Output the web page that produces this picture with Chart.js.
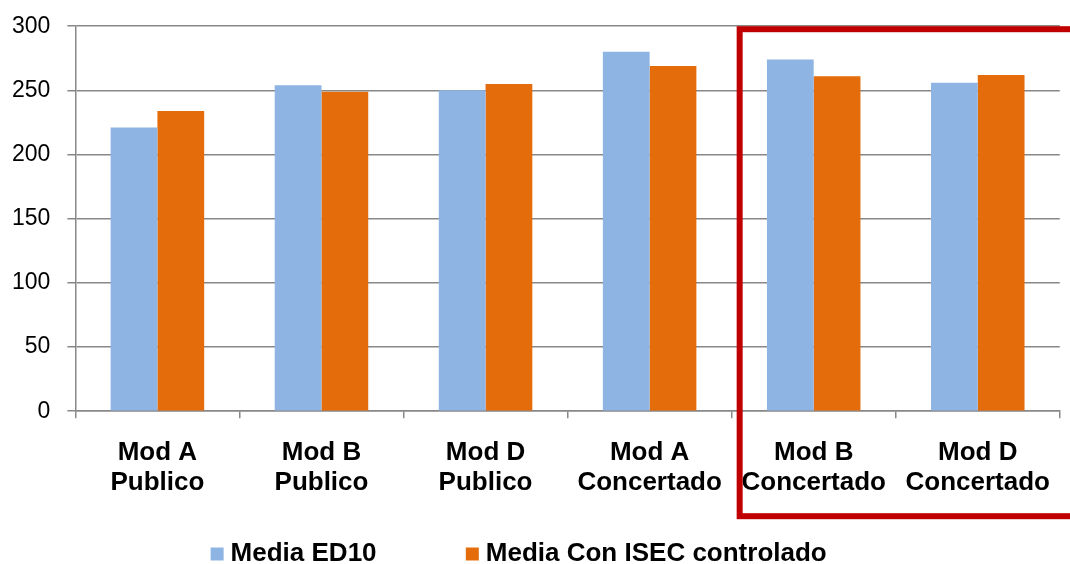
<!DOCTYPE html>
<html>
<head>
<meta charset="utf-8">
<script src="https://cdn.jsdelivr.net/npm/chart.js@4.4.0/dist/chart.umd.min.js"></script>
<style>
  html, body { margin: 0; padding: 0; background: #fff; overflow: hidden; }
  #wrap { width: 1070px; height: 564px; }
</style>
</head>
<body>
<div id="wrap"><canvas id="barMedia"></canvas></div>
<script>
// ---------- data ----------
const categories = [
  ["Mod A", "Publico"], ["Mod B", "Publico"], ["Mod D", "Publico"],
  ["Mod A", "Concertado"], ["Mod B", "Concertado"], ["Mod D", "Concertado"]
];
const seriesNames = ["Media ED10", "Media Con ISEC controlado"];
const mediaED10 = [221, 254, 250, 280, 274, 256];
const mediaISEC = [234, 249, 255, 269, 261, 262];
const yMin = 0, yMax = 300, yStep = 50;

const gridGray = "#888888";

// red box round the two "Concertado" groups B and D
const highlightBox = {
  id: "highlightBox",
  afterDraw(chart) {
    const { ctx, scales: { x, y }, chartArea } = chart;
    const left = (x.getPixelForValue(3) + x.getPixelForValue(4)) / 2 + 8;
    const top = y.getPixelForValue(yMax) + 3;
    const bottom = chartArea.bottom + 105;
    const right = chart.width + 10;
    ctx.save();
    ctx.strokeStyle = "#c00000";
    ctx.lineWidth = 6;
    ctx.strokeRect(left, top, right - left, bottom - top);
    ctx.restore();
  }
};

const ctx = document.getElementById("barMedia");
new Chart(ctx, {
  type: "bar",
  data: {
    labels: categories,
    datasets: [
      { label: seriesNames[0], data: mediaED10, backgroundColor: "#8eb4e3" },
      { label: seriesNames[1], data: mediaISEC, backgroundColor: "#e46c0a" }
    ]
  },
  options: {
    responsive: true,
    maintainAspectRatio: false,
    animation: false,
    layout: { padding: { top: 0, right: 0, left: -5, bottom: -13 } },
    datasets: { bar: { categoryPercentage: 0.57, barPercentage: 1.0 } },
    plugins: {
      tooltip: { enabled: false },
      legend: {
        position: "bottom",
        labels: {
          usePointStyle: true,
          pointStyle: "rect",
          boxWidth: 1,
          boxHeight: 13,
          padding: 23,
          color: "#000",
          font: { family: "Liberation Sans, Arial, sans-serif", size: 26, weight: "bold" },
          generateLabels(chart) {
            const items = Chart.defaults.plugins.legend.labels.generateLabels(chart);
            items.forEach(it => { it.lineWidth = 0; it.pointStyle = "rect"; });
            // spacing tweaks so the entries sit where the original has them
            items[0].text += "          ";
            items[1].text += "   ";
            return items;
          }
        }
      }
    },
    scales: {
      x: {
        grid: { drawOnChartArea: false, drawTicks: true, tickLength: 7, color: gridGray, lineWidth: 1.5 },
        border: { color: gridGray, width: 1.5 },
        ticks: {
          color: "#000",
          padding: 20,
          maxRotation: 0,
          font: { family: "Liberation Sans, Arial, sans-serif", size: 26, weight: "bold", lineHeight: 1.15 }
        }
      },
      y: {
        min: yMin,
        max: yMax,
        grid: { color: gridGray, lineWidth: 1.5, tickLength: 8 },
        border: { color: gridGray, width: 1.5 },
        ticks: {
          stepSize: yStep,
          color: "#000",
          padding: 17,
          font: { family: "Liberation Sans, Arial, sans-serif", size: 23, lineHeight: 0.8 }
        }
      }
    }
  },
  plugins: [highlightBox]
});
</script>
</body>
</html>
